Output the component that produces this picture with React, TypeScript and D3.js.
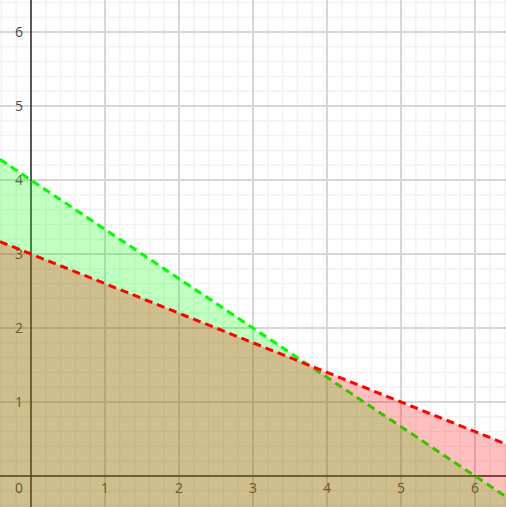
import * as d3 from "d3";
import { useEffect, useRef } from "react";

// boundary lines x/a + y/b = 1, region below each one shaded
const lineIds = ["green", "red"];
const xIntercepts = [6, 7.5];
const yIntercepts = [4, 3];
const lineColors = ["#00ff00", "#ff0000"];
const fillColors = ["rgba(0,255,0,0.25)", "rgba(255,0,0,0.25)"];
const tickValues = [0, 1, 2, 3, 4, 5, 6];

export default function App() {
  const svgRef = useRef<SVGSVGElement>(null);
  const width = 506;
  const height = 507;

  useEffect(() => {
    const svg = d3.select(svgRef.current);
    svg.selectAll("*").remove();

    const unit = 74;
    const x = d3.scaleLinear().domain([-31 / unit, (width - 31) / unit]).range([0, width]);
    const y = d3.scaleLinear().domain([-(height - 476) / unit, 476 / unit]).range([height, 0]);
    const [x0, x1] = x.domain();
    const [y0] = y.domain();

    svg.append("rect").attr("width", width).attr("height", height).attr("fill", "#fff");

    // minor grid
    const minor = d3.range(-0.4, 6.6, 0.2).filter((v) => Math.abs(v - Math.round(v)) > 0.01);
    const grid = svg.append("g");
    minor.forEach((v) => {
      grid.append("line").attr("x1", x(v)).attr("x2", x(v)).attr("y1", 0).attr("y2", height)
        .attr("stroke", "#f2f2f2").attr("stroke-width", 1.5);
      grid.append("line").attr("y1", y(v)).attr("y2", y(v)).attr("x1", 0).attr("x2", width)
        .attr("stroke", "#f2f2f2").attr("stroke-width", 1.5);
    });
    // major grid
    tickValues.filter((v) => v !== 0).forEach((v) => {
      grid.append("line").attr("x1", x(v)).attr("x2", x(v)).attr("y1", 0).attr("y2", height)
        .attr("stroke", "#d6d6d6").attr("stroke-width", 2);
      grid.append("line").attr("y1", y(v)).attr("y2", y(v)).attr("x1", 0).attr("x2", width)
        .attr("stroke", "#d6d6d6").attr("stroke-width", 2);
    });

    // axes
    svg.append("line").attr("x1", x(0)).attr("x2", x(0)).attr("y1", 0).attr("y2", height)
      .attr("stroke", "#222").attr("stroke-width", 1.5);
    svg.append("line").attr("y1", y(0)).attr("y2", y(0)).attr("x1", 0).attr("x2", width)
      .attr("stroke", "#222").attr("stroke-width", 1.5);

    // tick labels
    const labels = svg.append("g")
      .attr("font-family", "'Open Sans', sans-serif")
      .attr("font-size", 14)
      .attr("fill", "#4a4a4a");
    tickValues.forEach((v) => {
      if (v === 0) {
        labels.append("text").attr("x", x(0) - 12).attr("y", y(0) + 13)
          .attr("text-anchor", "middle").attr("dominant-baseline", "middle").text("0");
        return;
      }
      labels.append("text").attr("x", x(v)).attr("y", y(0) + 13)
        .attr("text-anchor", "middle").attr("dominant-baseline", "middle").text(String(v));
      labels.append("text").attr("x", x(0) - 12).attr("y", y(v) + 1)
        .attr("text-anchor", "middle").attr("dominant-baseline", "middle").text(String(v));
    });

    const area = d3.area<number>().x((d) => x(d)).y0(y(y0));
    const line = d3.line<number>().x((d) => x(d));

    lineIds.forEach((_, i) => {
      const f = (xv: number) => yIntercepts[i] * (1 - xv / xIntercepts[i]);
      const pts = [x0, x1];
      svg.append("path")
        .attr("d", area.y1((d) => y(f(d)))(pts))
        .attr("fill", fillColors[i]);
      svg.append("path")
        .attr("d", line.y((d) => y(f(d)))(pts))
        .attr("fill", "none")
        .attr("stroke", lineColors[i])
        .attr("stroke-width", 3)
        .attr("stroke-dasharray", "8,5");
    });
  }, []);

  return (
    <svg
      ref={svgRef}
      width={width}
      height={height}
      style={{ position: "fixed", left: 0, top: 0, display: "block" }}
    />
  );
}
